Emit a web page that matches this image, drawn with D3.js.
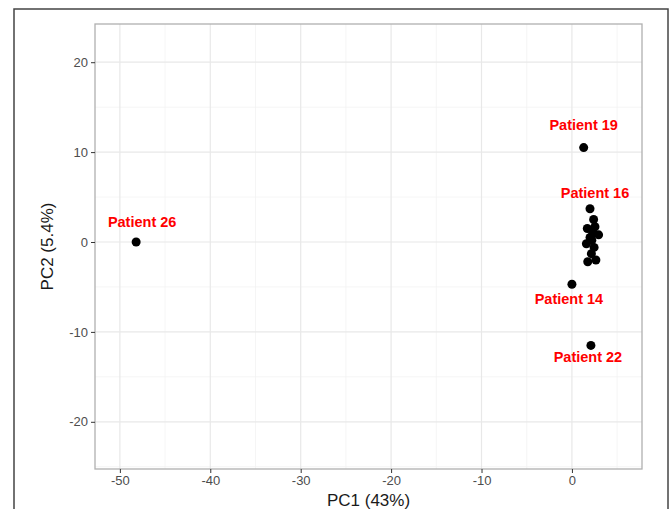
<!DOCTYPE html>
<html><head><meta charset="utf-8">
<script src="https://cdn.jsdelivr.net/npm/d3@7"></script>
<style>body{margin:0;background:#fff}svg{display:block}</style>
</head><body>
<svg id="c" width="669" height="509"></svg>
<script>
// Data
const patients = ["Patient 26","Patient 19","Patient 16","Patient 14","Patient 22",
  "p1","p2","p3","p4","p5","p6","p7","p8","p9","p10","p11","p12"];
const pc1 = [-48.2, 1.3, 2.0, 0.0, 2.1, 2.4, 1.7, 2.55, 2.95, 1.6, 2.2, 2.45, 2.0, 1.75, 2.65, 2.15, 2.3];
const pc2 = [0.0, 10.5, 3.7, -4.7, -11.5, 2.5, 1.5, 1.7, 0.8, -0.2, 0.2, -0.6, 0.5, -2.2, -2.0, -1.3, 1.0];
const labelled = ["Patient 26","Patient 19","Patient 16","Patient 14","Patient 22"];
const labelDx = [6, 0, 5, -3, -3];
const labelDy = [-20, -23, -16, 15, 12];
const xTicks = [-50,-40,-30,-20,-10,0];
const yTicks = [-20,-10,0,10,20];
const xDomain = [-52.75, 7.75];
const yDomain = [-25.25, 24.25];

const svg = d3.select("#c");
const L=95, R=642, T=24, B=469;
const x = d3.scaleLinear().domain(xDomain).range([L,R]);
const y = d3.scaleLinear().domain(yDomain).range([B,T]);

// outer frame
svg.append("rect").attr("x",14).attr("y",9).attr("width",654).attr("height",520)
  .attr("fill","none").attr("stroke","#444").attr("stroke-width",1.5);

// minor grid
const xMinor = xTicks.map(d=>d+5).concat([-55]).filter(d=>d>xDomain[0]&&d<xDomain[1]);
const yMinor = yTicks.map(d=>d+5).concat([-25]).filter(d=>d>yDomain[0]&&d<yDomain[1]);
const g = svg.append("g");
g.selectAll(".xm").data(xMinor).enter().append("line")
  .attr("x1",d=>x(d)).attr("x2",d=>x(d)).attr("y1",T).attr("y2",B)
  .attr("stroke","#f2f2f2").attr("stroke-width",0.8);
g.selectAll(".ym").data(yMinor).enter().append("line")
  .attr("y1",d=>y(d)).attr("y2",d=>y(d)).attr("x1",L).attr("x2",R)
  .attr("stroke","#f2f2f2").attr("stroke-width",0.8);
g.selectAll(".xM").data(xTicks).enter().append("line")
  .attr("x1",d=>x(d)).attr("x2",d=>x(d)).attr("y1",T).attr("y2",B)
  .attr("stroke","#e8e8e8").attr("stroke-width",1.2);
g.selectAll(".yM").data(yTicks).enter().append("line")
  .attr("y1",d=>y(d)).attr("y2",d=>y(d)).attr("x1",L).attr("x2",R)
  .attr("stroke","#e8e8e8").attr("stroke-width",1.2);

// panel border
svg.append("rect").attr("x",L).attr("y",T).attr("width",R-L).attr("height",B-T)
  .attr("fill","none").attr("stroke","#b0b0b0").attr("stroke-width",1.3);

// axes
const xAxis = svg.append("g").attr("transform",`translate(0,${B})`)
  .call(d3.axisBottom(x).tickValues(xTicks).tickSize(4).tickPadding(3).tickFormat(d3.format("d")));
const yAxis = svg.append("g").attr("transform",`translate(${L},0)`)
  .call(d3.axisLeft(y).tickValues(yTicks).tickSize(4).tickPadding(3).tickFormat(d3.format("d")));
[xAxis,yAxis].forEach(a=>{
  a.select(".domain").remove();
  a.selectAll(".tick line").attr("stroke","#333").attr("stroke-width",1);
  a.selectAll(".tick text").attr("fill","#4d4d4d").style("font-family","Liberation Sans, Arial, sans-serif").style("font-size","13px");
});
yAxis.selectAll(".tick text").text(d=>d<0 ? "-"+Math.abs(d) : d);
xAxis.selectAll(".tick text").text(d=>d<0 ? "-"+Math.abs(d) : d);

// axis titles
svg.append("text").attr("x",(L+R)/2).attr("y",506).attr("text-anchor","middle")
  .style("font-family","Liberation Sans, Arial, sans-serif").style("font-size","17px").attr("fill","#1a1a1a")
  .text("PC1 (43%)");
svg.append("text").attr("transform",`translate(53,${(T+B)/2}) rotate(-90)`).attr("text-anchor","middle")
  .style("font-family","Liberation Sans, Arial, sans-serif").style("font-size","17px").attr("fill","#1a1a1a")
  .text("PC2 (5.4%)");

// points
svg.append("g").selectAll("circle").data(pc1).enter().append("circle")
  .attr("cx",(d,i)=>x(d)).attr("cy",(d,i)=>y(pc2[i])).attr("r",4.5).attr("fill","#000");

// labels
labelled.forEach((name,k)=>{
  const i = patients.indexOf(name);
  svg.append("text").attr("x",x(pc1[i])+labelDx[k]).attr("y",y(pc2[i])+labelDy[k]+5)
    .attr("text-anchor","middle").attr("fill","#ff0000")
    .style("font-family","Liberation Sans, Arial, sans-serif").style("font-weight","bold").style("font-size","14.5px")
    .text(name);
});
</script>
</body></html>
